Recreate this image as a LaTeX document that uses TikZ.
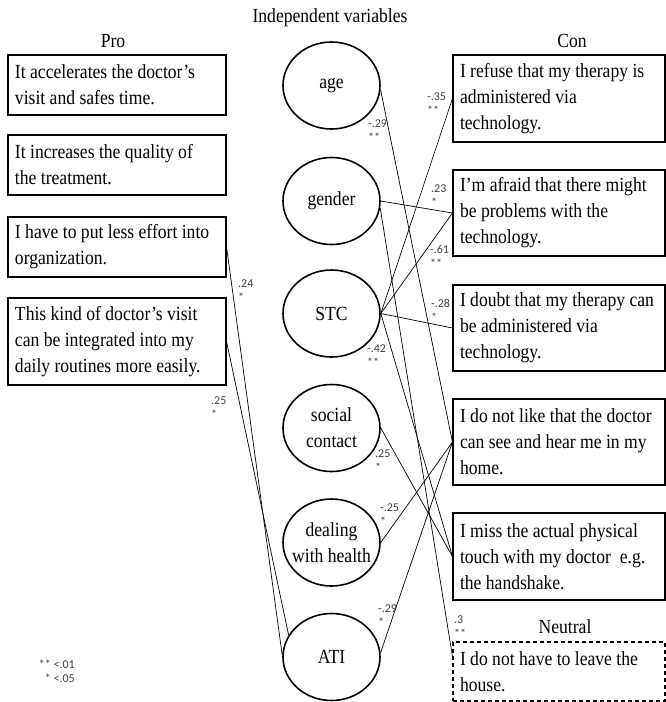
\documentclass[tikz,border=0pt]{standalone}
\usepackage{fontspec}
\setmainfont[FakeStretch=0.88]{Liberation Serif}
\newfontfamily\coeffont{Carlito}
\usetikzlibrary{shapes.geometric}

\tikzset{
  probox/.style={draw, line width=1.1pt, text width=218pt, align=left,
    inner xsep=0pt, inner ysep=0pt, minimum height=#1,
    execute at begin node={\leftskip=7pt\spaceskip=4.4pt minus 1.5pt}},
  conbox/.style={draw, line width=1.1pt, text width=212pt, align=left,
    inner xsep=0pt, inner ysep=0pt, minimum height=#1,
    execute at begin node={\leftskip=7pt\spaceskip=4.4pt minus 1.5pt}},
  ivar/.style={ellipse, draw, line width=1.6pt, minimum width=97pt,
    minimum height=87pt, inner ysep=0pt, inner xsep=-12pt, align=center},
  link/.style={line width=0.7pt},
  coef/.style={font=\coeffont\fontsize{12}{14}\selectfont, text=black!75,
    align=left, anchor=north west, inner sep=0pt},
  head/.style={anchor=base, inner sep=0pt}
}

\begin{document}
\begin{tikzpicture}[x=1pt, y=-1pt, font=\fontsize{20}{26}\selectfont]
        \useasboundingbox (0,0) rectangle (666,702);

        % Headings
        \node[head] (hpro) at (113,47) {Pro};
        \node[head] (hvar) at (330,22) {Independent variables};
        \node[head] (hcon) at (572,47) {Con};
        \node[head] (hneu) at (565,633) {Neutral};

        % Pro statements
        \node[probox=60pt] (pro1) at (117,85) {It accelerates the doctor's\\visit and safes time.};
        \node[probox=60pt] (pro2) at (117,165) {It increases the quality of\\the treatment.};
        \node[probox=60pt] (pro3) at (117,247) {I have to put less effort into\\organization.};
        \node[probox=87pt] (pro4) at (117,341.5) {This kind of doctor's visit\\can be integrated into my\\daily routines more easily.};

        % Independent variables
        \node[ivar] (age) at (331.5,85.5) {age};
        \node[ivar] (gender) at (331.5,201) {gender};
        \node[ivar] (stc) at (331.5,313.5) {STC};
        \node[ivar] (social) at (331.5,428) {social\\contact};
        \node[ivar] (deal) at (331.5,542.5) {dealing\\with health};
        \node[ivar] (ati) at (331.5,657) {ATI};

        % Con statements
        \node[conbox=87pt] (con1) at (559,98.5) {I refuse that my therapy is\\administered via\\technology.};
        \node[conbox=86pt] (con2) at (559,213) {I'm afraid that there might\\be problems with the\\technology.};
        \node[conbox=86pt] (con3) at (559,328) {I doubt that my therapy can\\be administered via\\technology.};
        \node[conbox=86pt] (con4) at (559,442) {I do not like that the doctor\\can see and hear me in my\\home.};
        \node[conbox=87pt] (con5) at (559,556.5) {I miss the actual physical\\touch with my doctor\ \ e.g.\\the handshake.};

        % Neutral statement
        \node[conbox=59pt, dash pattern=on 4pt off 3pt] (neu) at (559,671.5) {I do not have to leave the\\house.};

        % Significant paths
        \draw[link] (age.-5) -- (con4.west);
        \draw[link] (gender.east) -- (con2.west);
        \draw[link] (gender.-8) -- (neu.172);
        \draw[link] (stc.east) -- (con1.west);
        \draw[link] (stc.east) -- (con2.west);
        \draw[link] (stc.east) -- (con3.west);
        \draw[link] (stc.east) -- (con5.west);
        \draw[link] (social.east) -- (con5.west);
        \draw[link] (deal.east) -- (con4.west);
        \draw[link] (ati.5) -- (con4.west);
        \draw[link] (ati.178) -- (pro3.east);
        \draw[link] (ati.153) -- (pro4.east);

        % Coefficients
        \node[coef] (k1) at (368,120) {-.29\\**};
        \node[coef] (k2) at (427,93) {-.35\\**};
        \node[coef] (k3) at (431,185) {.23\\*};
        \node[coef] (k4) at (430,245) {-.61\\**};
        \node[coef] (k5) at (431,299) {-.28\\*};
        \node[coef] (k6) at (367,345) {-.42\\**};
        \node[coef] (k7) at (375,450) {.25\\*};
        \node[coef] (k8) at (380,504) {-.25\\*};
        \node[coef] (k9) at (378,605) {-.29\\*};
        \node[coef] (k10) at (454,616) {.3\\**};
        \node[coef] (k11) at (238,280) {.24\\*};
        \node[coef] (k12) at (211,397) {.25\\*};

        % Legend
        \node[coef, align=right, anchor=north east] (legend) at (75,660) {** <.01\\* <.05};

\end{tikzpicture}
\end{document}
